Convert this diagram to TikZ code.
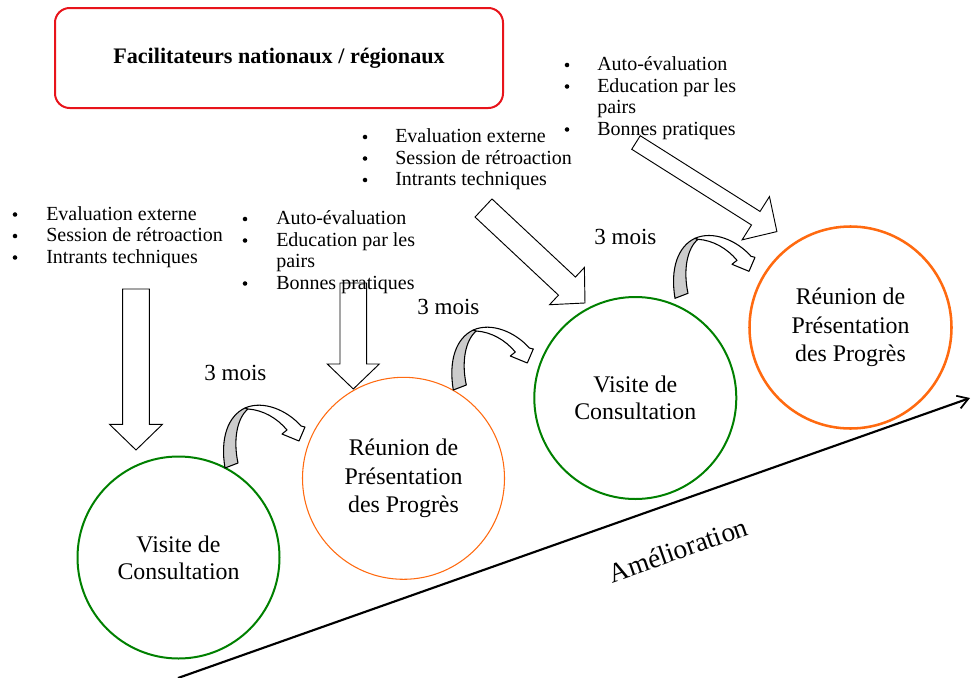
\documentclass[tikz,border=0pt]{standalone}
\usepackage{fontspec}
\setmainfont{Liberation Serif}
\usetikzlibrary{arrows.meta}

\definecolor{consultgreen}{HTML}{008000}
\definecolor{progorange}{HTML}{FF6A10}
\definecolor{boxred}{HTML}{E8141B}
\definecolor{ribbongray}{HTML}{CCCCCC}

\tikzset{
  consult/.style={font=\fontsize{17.9}{20}\selectfont, align=center,
                  circle, draw=consultgreen, line width=1.5pt,
                  minimum size=151.5pt, inner sep=0pt},
  progress/.style={font=\fontsize{17.9}{21.4}\selectfont, align=center,
                   circle, draw=progorange, minimum size=151.5pt, inner sep=0pt},
  bulletline/.style={font=\fontsize{15}{18}\selectfont, anchor=base west, inner sep=0pt},
  bulletdot/.style={circle, fill=black, minimum size=3.4pt, inner sep=0pt},
  interval/.style={font=\fontsize{17.3}{20}\selectfont, anchor=base west, inner sep=0pt},
  blockline/.style={draw=black, line width=0.7pt, line join=miter},
  ribbonline/.style={draw=black, line width=0.8pt, line join=round}
}

% hollow block arrow: tail centre, angle, length, half shaft width, half head width, head length
\newcommand\blockarrow[6]{%
  \draw[blockline, shift={#1}, rotate=#2]
    (0,#4) -- ({#3-#6},#4) -- ({#3-#6},#5) -- (#3,0) -- ({#3-#6},-#5)
    -- ({#3-#6},-#4) -- (0,-#4) -- cycle;}

% curved ribbon arrow standing on its base point
\newcommand\ribbonarrow[1]{%
  \begin{scope}[shift={#1}]
    \filldraw[ribbonline, fill=ribbongray]
      (0,0) .. controls (-5,-30) and (3,-52) .. (20,-60) -- (23,-59)
      .. controls (12,-50) and (8,-28) .. (13,-5) -- cycle;
    \filldraw[ribbonline, fill=white]
      (20,-60) .. controls (38,-68) and (62,-58) .. (76,-42) -- (80,-41)
      -- (74,-27) -- (57,-34) -- (62,-38)
      .. controls (52,-50) and (38,-58) .. (23,-59) -- cycle;
  \end{scope}}

% bulleted line: x of bullet, x of text, baseline, text
\newcommand\bulletitem[4]{%
  \node[bulletdot] at (#1,{#3-5.5}) {};
  \node[bulletline] at (#2,#3) {#4};}

\begin{document}
\begin{tikzpicture}[x=0.75pt,y=-0.75pt]
  \useasboundingbox (0,0) rectangle (971,678);

  % title box
  \node[draw=boxred, line width=1.5pt, rounded corners=11pt,
        minimum width=336pt, minimum height=75pt,
        font=\bfseries\fontsize{16.6}{20}\selectfont] (title) at (279,58)
        {Facilitateurs nationaux / régionaux};

  % improvement axis
  \coordinate (axisstart) at (178,678);
  \coordinate (axisend) at (970,398);
  \draw[line width=1.6pt, -{Straight Barb[length=8pt, width=10pt, line width=1.3pt]}]
    (axisstart) -- (axisend);
  \node[font=\fontsize{20.5}{24}\selectfont, rotate=19.4, inner sep=0pt] (axislabel) at (678,550) {Amélioration};

  % stages
  \node[consult] (visit1) at (178.5,557.5) {Visite de\\Consultation};
  \node[progress, line width=0.8pt] (meet1) at (403.5,478.3) {Réunion de\\Présentation\\des Progrès};
  \node[consult] (visit2) at (635.3,398) {Visite de\\Consultation};
  \node[progress, line width=1.9pt] (meet2) at (850.5,327.5) {Réunion de\\Présentation\\des Progrès};

  % intervals between stages
  \ribbonarrow{(225,468)}
  \ribbonarrow{(453.3,390)}
  \ribbonarrow{(675,298.3)}
  \node[interval] (gap1) at (204,380) {3 mois};
  \node[interval] (gap2) at (417,314.5) {3 mois};
  \node[interval] (gap3) at (594,244.5) {3 mois};

  % inputs before each stage
  \bulletitem{15}{46}{220}{Evaluation externe}
  \bulletitem{15}{46}{241.5}{Session de rétroaction}
  \bulletitem{15}{46}{263}{Intrants techniques}

  \bulletitem{245}{276}{224.5}{Auto-évaluation}
  \bulletitem{245}{276}{246}{Education par les}
  \node[bulletline] (pairsB) at (276,267.5) {pairs};
  \bulletitem{245}{276}{289}{Bonnes pratiques}

  \bulletitem{365}{395}{142.5}{Evaluation externe}
  \bulletitem{365}{395}{164}{Session de rétroaction}
  \bulletitem{365}{395}{185.5}{Intrants techniques}

  \bulletitem{567}{597}{70.5}{Auto-évaluation}
  \bulletitem{567}{597}{92}{Education par les}
  \node[bulletline] (pairsD) at (597,113.5) {pairs};
  \bulletitem{567}{597}{135}{Bonnes pratiques}

  % block arrows feeding the stages
  \blockarrow{(136,289)}{-90}{161}{13.3}{26.5}{25.7}
  \blockarrow{(353.3,283)}{-90}{106}{13.3}{26}{25}
  \blockarrow{(483.5,208)}{-43.1}{139}{12.4}{25.5}{24.7}
  \blockarrow{(636,142.5)}{-32.3}{166.7}{8}{25.6}{25}
\end{tikzpicture}
\end{document}
